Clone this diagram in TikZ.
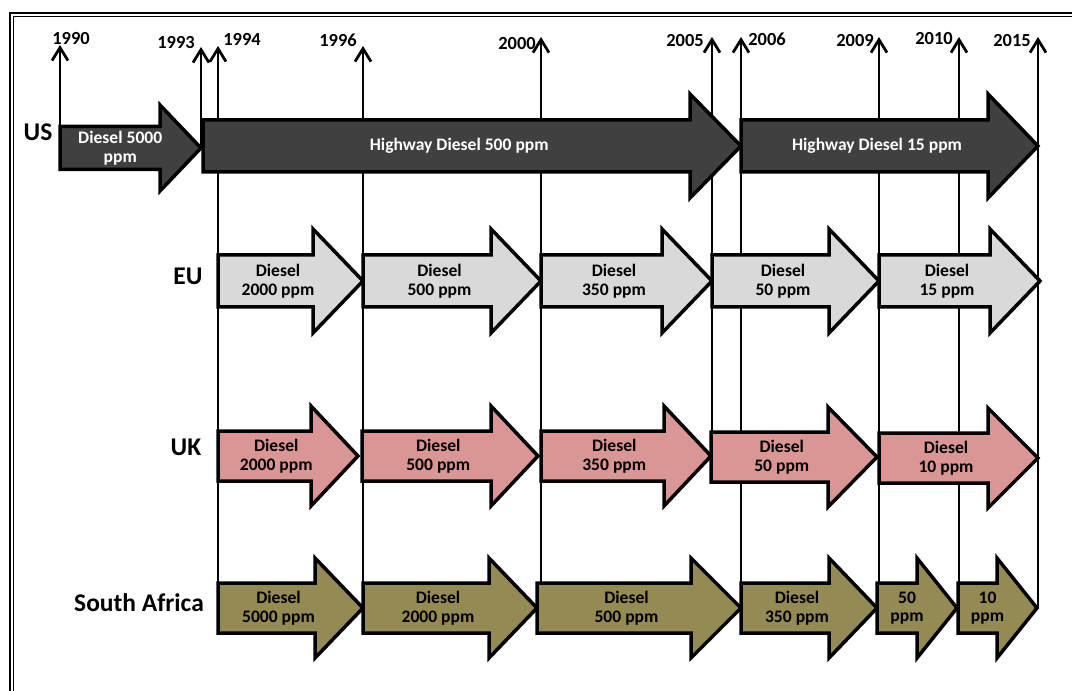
\documentclass[tikz,border=0pt]{standalone}
\usepackage{fontspec}
\setmainfont{Carlito}
\usepackage{xcolor}
\usepackage{tikz}
\usetikzlibrary{arrows.meta}

\definecolor{usgray}{HTML}{404040}
\definecolor{eugray}{HTML}{D9D9D9}
\definecolor{ukpink}{HTML}{DA9694}
\definecolor{saolive}{HTML}{948A54}

% #1 name, #2 look, #3 tail x, #4 tip x, #5 mid y, #6 half shaft, #7 head length, #8 text
\newcommand{\fuelarrow}[8]{%
  \draw[fuelbox,#2] (#3,#5-#6) -- (#4-#7,#5-#6) -- (#4-#7,#5-2*#6) -- (#4,#5)
    -- (#4-#7,#5+2*#6) -- (#4-#7,#5+#6) -- (#3,#5+#6) -- cycle;
  \node[fueltext,#2,fill=none] (#1) at ({(#3+#4-#7/2)/2},#5) {#8};
}

\begin{document}
\begin{tikzpicture}[x=0.2mm,y=-0.2mm,
    fuelbox/.style={draw=black,line width=0.7mm,line join=miter},
    fueltext/.style={font=\fontsize{10}{10.5}\selectfont\bfseries,align=center,inner sep=0pt},
    yeartext/.style={font=\fontsize{10.5}{12}\selectfont\bfseries,inner sep=0pt},
    rowtext/.style={font=\fontsize{14.5}{16}\selectfont\bfseries,inner sep=0pt},
    yearline/.style={line width=0.55mm,-{Straight Barb[length=2.6mm,width=3.2mm]}},
    us/.style={fill=usgray,text=white},
    eu/.style={fill=eugray},
    uk/.style={fill=ukpink},
    sa/.style={fill=saolive}]
    \useasboundingbox (0,0) rectangle (1072,691);

    % frame
    \draw[line width=0.5mm] (10,691) -- (10,13) -- (1072,13);
    \draw[line width=0.25mm] (13.5,691) -- (13.5,16.3) -- (1072,16.3);

    % rows
    \coordinate (rowUS) at (0,147);
    \coordinate (rowUK) at (0,456);
    \coordinate (rowSA) at (0,608);
    \node[rowtext] (US) at (38,132) {US};
    \node[rowtext] (EU) at (188,276) {EU};
    \node[rowtext] (UK) at (186,447) {UK};
    \node[rowtext] (SA) at (139,603) {South Africa};

    % year lines
    \foreach \yr/\x/\t/\row/\lx/\ly in {1990/60/45/US/71/39, 1993/201/47/US/176/43,
        1994/218/46/SA/242/39, 1996/363/46/SA/338/40, 2000/541/37/SA/517/44,
        2005/712/37/UK/685/41, 2006/741/37/SA/767/39, 2009/879/37/SA/855/41,
        2010/959/37/SA/934/39, 2015/1038/37/SA/1012/41}{
      \coordinate (top\yr) at (\x,\t);
      \draw[yearline] (top\yr |- row\row) -- (top\yr);
      \node[yeartext] (lab\yr) at (\lx,\ly) {\yr};
    }

    % US
    \fuelarrow{us1}{us}{60}{201}{148}{21.5}{41}{Diesel 5000\\ppm}
    \fuelarrow{us2}{us}{203}{741}{146}{26}{51}{Highway Diesel 500 ppm}
    \fuelarrow{us3}{us}{741}{1038}{146}{26}{50}{Highway Diesel 15 ppm}
    % EU
    \fuelarrow{eu1}{eu}{218}{363}{281}{26}{50}{Diesel\\2000 ppm}
    \fuelarrow{eu2}{eu}{363}{541}{281}{26}{50}{Diesel\\500 ppm}
    \fuelarrow{eu3}{eu}{541}{712}{281}{26}{50}{Diesel\\350 ppm}
    \fuelarrow{eu4}{eu}{712}{879}{281}{26}{50}{Diesel\\50 ppm}
    \fuelarrow{eu5}{eu}{879}{1040}{281}{26}{50}{Diesel\\15 ppm}
    % UK
    \fuelarrow{uk1}{uk}{218}{358}{456}{25}{47}{Diesel\\2000 ppm}
    \fuelarrow{uk2}{uk}{362}{538}{456}{25}{47}{Diesel\\500 ppm}
    \fuelarrow{uk3}{uk}{541}{711}{456}{25}{47}{Diesel\\350 ppm}
    \fuelarrow{uk4}{uk}{711}{877}{457}{25}{49}{Diesel\\50 ppm}
    \fuelarrow{uk5}{uk}{879}{1038}{458}{25}{50}{Diesel\\10 ppm}
    % South Africa
    \fuelarrow{sa1}{sa}{218}{363}{608}{25}{48}{Diesel\\5000 ppm}
    \fuelarrow{sa2}{sa}{363}{537}{608}{25}{48}{Diesel\\2000 ppm}
    \fuelarrow{sa3}{sa}{537}{741}{608}{25}{50}{Diesel\\500 ppm}
    \fuelarrow{sa4}{sa}{741}{877}{608}{25}{48}{Diesel\\350 ppm}
    \fuelarrow{sa5}{sa}{877}{957}{608}{25}{40}{50\\ppm}
    \fuelarrow{sa6}{sa}{958}{1037}{608}{25}{40}{10\\ppm}
\end{tikzpicture}
\end{document}
